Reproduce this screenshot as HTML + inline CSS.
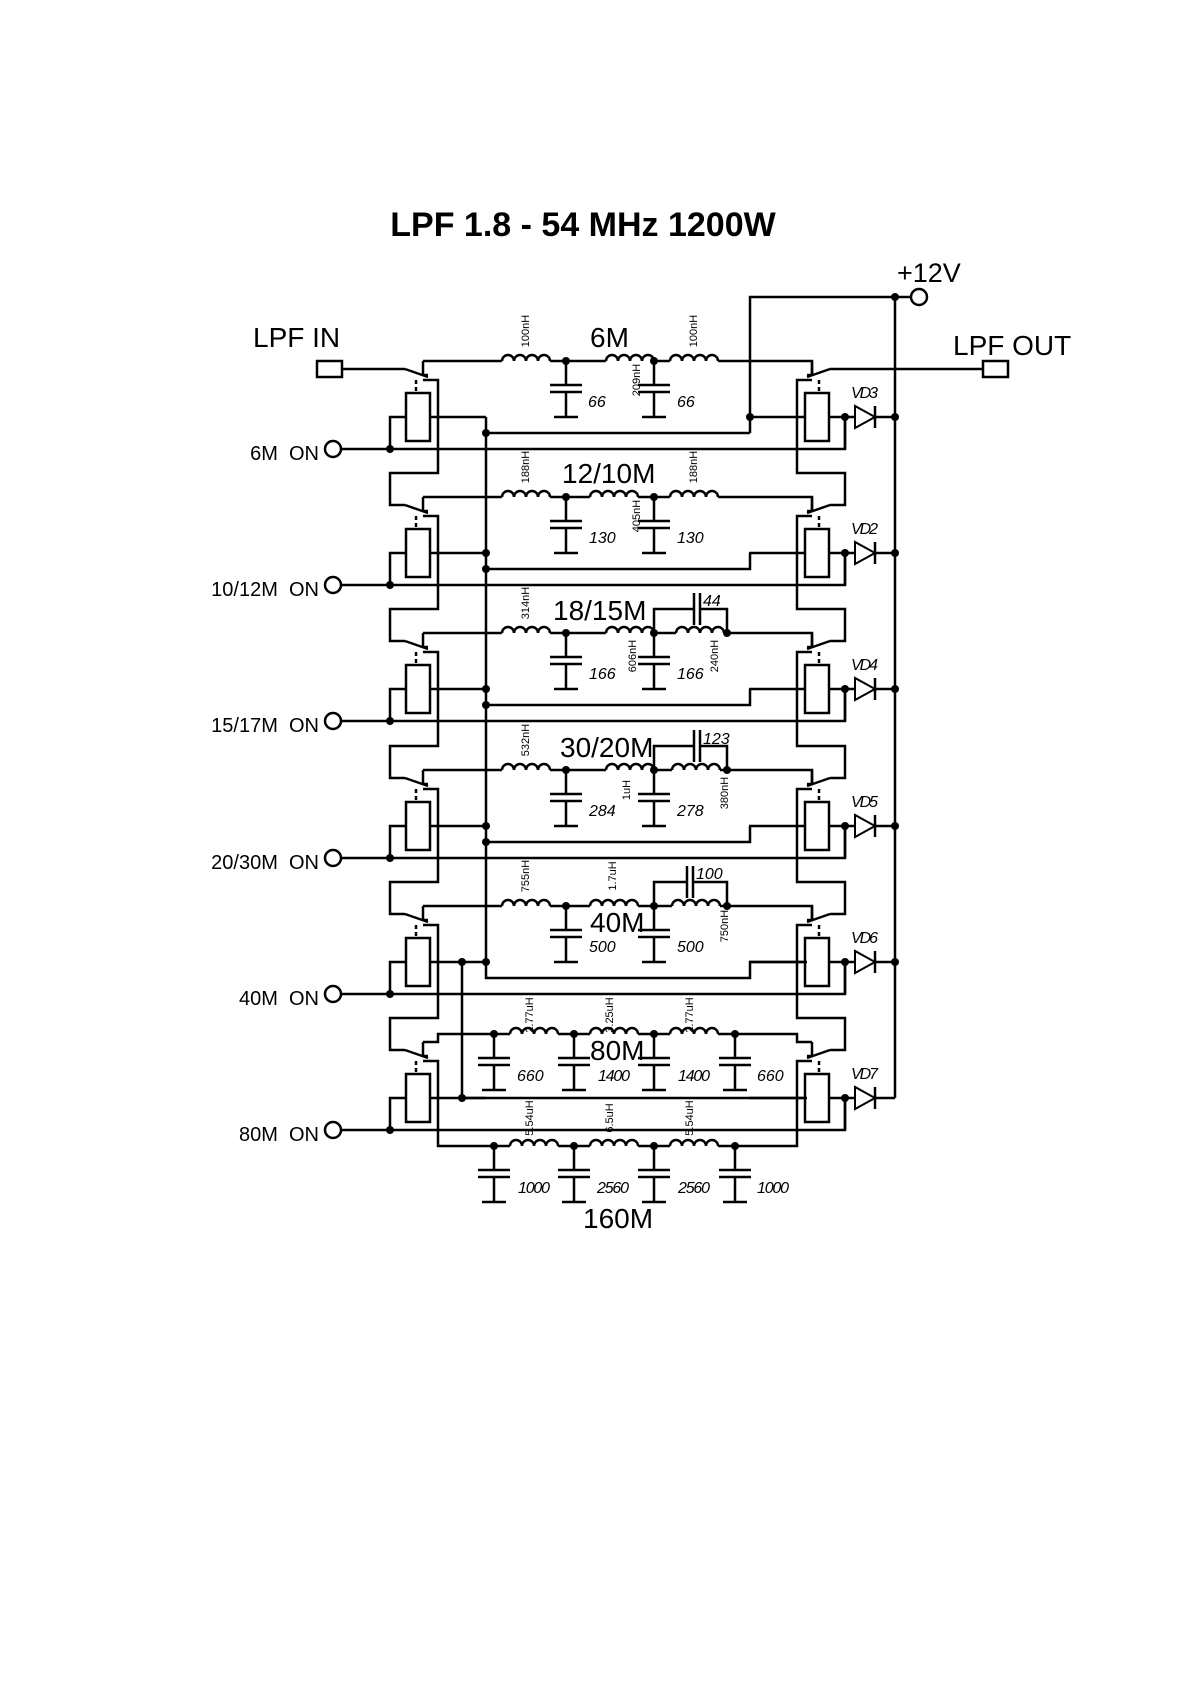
<!DOCTYPE html>
<html><head><meta charset="utf-8"><style>
html,body{margin:0;padding:0;background:#fff}
svg{display:block}
text{font-family:"Liberation Sans",sans-serif;fill:#000}
.w{fill:none;stroke:#000;stroke-width:2.5}
.it{font-style:italic}
</style></head><body>
<svg width="1190" height="1684" viewBox="0 0 1190 1684" xmlns="http://www.w3.org/2000/svg">
<defs>
<g id="rel" class="w">
<rect x="406" y="32" width="24" height="48" fill="#fff"/>
<path d="M416 19V32" stroke-dasharray="4 3"/>
<path d="M406 56H390V88M430 56H486M423 0V14H428M405 8L428 16"/>
</g>
<g id="ind"><path d="M0 0H48" stroke="#fff" stroke-width="6"/><path class="w" d="M0 0a6 6 0 0 1 12 0a6 6 0 0 1 12 0a6 6 0 0 1 12 0a6 6 0 0 1 12 0"/></g>
<g id="cap" class="w"><path d="M0 0V24M-16 24H16M-16 31H16M0 31V56M-12 56H12"/><circle cx="0" cy="0" r="4" fill="#000" stroke="none"/></g>
<g id="dio"><path class="w" d="M845 0H895"/><polygon points="855,-11 855,11 875,0" fill="#fff" stroke="#000" stroke-width="2"/><path class="w" d="M875 -11V11"/><circle cx="845" cy="0" r="4"/><circle cx="895" cy="0" r="4"/></g>
</defs>

<text x="583" y="236" font-size="34" font-weight="bold" text-anchor="middle">LPF 1.8 - 54 MHz 1200W</text>
<text x="253" y="347" font-size="28">LPF IN</text>
<text x="953" y="355" font-size="28">LPF OUT</text>
<text x="897" y="282" font-size="27">+12V</text>

<rect x="317" y="361" width="25" height="16" class="w" fill="#fff"/>
<rect x="983" y="361" width="25" height="16" class="w" fill="#fff"/>
<path class="w" d="M342 369H405M830 369H983"/>

<path class="w" d="M750 433V297H911M895 297V1098"/>
<circle cx="919" cy="297" r="8" class="w" fill="#fff"/>
<circle cx="895" cy="297" r="4"/>

<use href="#rel" transform="translate(0,361)"/>
<use href="#rel" transform="translate(0,497)"/>
<use href="#rel" transform="translate(0,633)"/>
<use href="#rel" transform="translate(0,770)"/>
<use href="#rel" transform="translate(0,906)"/>
<use href="#rel" transform="translate(0,1042)"/>
<use href="#rel" transform="translate(1235,361) scale(-1,1)"/>
<use href="#rel" transform="translate(1235,497) scale(-1,1)"/>
<use href="#rel" transform="translate(1235,633) scale(-1,1)"/>
<use href="#rel" transform="translate(1235,770) scale(-1,1)"/>
<use href="#rel" transform="translate(1235,906) scale(-1,1)"/>
<use href="#rel" transform="translate(1235,1042) scale(-1,1)"/>
<g>
<circle cx="390" cy="449" r="4"/><circle cx="390" cy="585" r="4"/><circle cx="390" cy="721" r="4"/><circle cx="390" cy="858" r="4"/><circle cx="390" cy="994" r="4"/><circle cx="390" cy="1130" r="4"/>
</g>

<path class="w" d="M423 380H438V473H390V505H405M423 516H438V609H390V641H405M423 652H438V746H390V778H405M423 789H438V882H390V914H405M423 925H438V1018H390V1050H405M423 1061H438V1146H797V1061H812"/>
<path class="w" d="M812 380H797V473H845V505H830M812 516H797V609H845V641H830M812 652H797V746H845V778H830M812 789H797V882H845V914H830M812 925H797V1018H845V1050H830"/>

<path class="w" d="M423 361H812V375M423 497H812V511M423 633H812V647M423 770H812V784M423 906H812V920M423 1042H438V1034H797V1042H812"/>

<path class="w" d="M341 449H845V417M341 585H845V553M341 721H845V689M341 858H845V826M341 994H845V962M341 1130H845V1098"/>
<g class="w" fill="#fff">
<circle cx="333" cy="449" r="8"/><circle cx="333" cy="585" r="8"/><circle cx="333" cy="721" r="8"/><circle cx="333" cy="858" r="8"/><circle cx="333" cy="994" r="8"/><circle cx="333" cy="1130" r="8"/>
</g>
<g font-size="20" text-anchor="end">
<text x="319" y="460" xml:space="preserve">6M  ON</text>
<text x="319" y="596" xml:space="preserve">10/12M  ON</text>
<text x="319" y="732" xml:space="preserve">15/17M  ON</text>
<text x="319" y="869" xml:space="preserve">20/30M  ON</text>
<text x="319" y="1005" xml:space="preserve">40M  ON</text>
<text x="319" y="1141" xml:space="preserve">80M  ON</text>
</g>

<path class="w" d="M486 417V978H750V962H807M486 433H750M486 569H750V553M486 705H750V689M486 842H750V826M462 962V1098H807"/>
<g>
<circle cx="486" cy="433" r="4"/><circle cx="750" cy="417" r="4"/>
<circle cx="486" cy="553" r="4"/><circle cx="486" cy="569" r="4"/>
<circle cx="486" cy="689" r="4"/><circle cx="486" cy="705" r="4"/>
<circle cx="486" cy="826" r="4"/><circle cx="486" cy="842" r="4"/>
<circle cx="486" cy="962" r="4"/><circle cx="462" cy="962" r="4"/><circle cx="462" cy="1098" r="4"/>
</g>

<use href="#dio" transform="translate(0,417)"/>
<use href="#dio" transform="translate(0,553)"/>
<use href="#dio" transform="translate(0,689)"/>
<use href="#dio" transform="translate(0,826)"/>
<use href="#dio" transform="translate(0,962)"/>
<g transform="translate(0,1098)"><path class="w" d="M845 0H895"/><polygon points="855,-11 855,11 875,0" fill="#fff" stroke="#000" stroke-width="2"/><path class="w" d="M875 -11V11"/><circle cx="845" cy="0" r="4"/></g>
<g font-size="16" class="it">
<text x="851" y="398" textLength="27">VD3</text>
<text x="851" y="534" textLength="27">VD2</text>
<text x="851" y="670" textLength="27">VD4</text>
<text x="851" y="807" textLength="27">VD5</text>
<text x="851" y="943" textLength="27">VD6</text>
<text x="851" y="1079" textLength="27">VD7</text>
</g>

<g transform="translate(0,361)">
<use href="#ind" x="502"/><use href="#ind" x="606"/><use href="#ind" x="670"/>
<use href="#cap" x="566"/><use href="#cap" x="654"/>
</g>
<g transform="translate(0,497)">
<use href="#ind" x="502"/><use href="#ind" x="590"/><use href="#ind" x="670"/>
<use href="#cap" x="566"/><use href="#cap" x="654"/>
</g>
<g transform="translate(0,633)">
<use href="#ind" x="502"/><use href="#ind" x="606"/><use href="#ind" x="676"/>
<use href="#cap" x="566"/><use href="#cap" x="654"/>
<path class="w" d="M654 0V-24H694M694 -40V-8M700 -40V-8M700 -24H727V0"/><circle cx="727" cy="0" r="4"/>
</g>
<g transform="translate(0,770)">
<use href="#ind" x="502"/><use href="#ind" x="606"/><use href="#ind" x="672"/>
<use href="#cap" x="566"/><use href="#cap" x="654"/>
<path class="w" d="M654 0V-24H694M694 -40V-8M700 -40V-8M700 -24H727V0"/><circle cx="727" cy="0" r="4"/>
</g>
<g transform="translate(0,906)">
<use href="#ind" x="502"/><use href="#ind" x="590"/><use href="#ind" x="672"/>
<use href="#cap" x="566"/><use href="#cap" x="654"/>
<path class="w" d="M654 0V-24H687M687 -40V-8M693 -40V-8M693 -24H727V0"/><circle cx="727" cy="0" r="4"/>
</g>
<g transform="translate(0,1034)">
<use href="#ind" x="510"/><use href="#ind" x="590"/><use href="#ind" x="670"/>
<use href="#cap" x="494"/><use href="#cap" x="574"/><use href="#cap" x="654"/><use href="#cap" x="735"/>
</g>
<g transform="translate(0,1146)">
<use href="#ind" x="510"/><use href="#ind" x="590"/><use href="#ind" x="670"/>
<use href="#cap" x="494"/><use href="#cap" x="574"/><use href="#cap" x="654"/><use href="#cap" x="735"/>
</g>

<g font-size="28">
<text x="590" y="347">6M</text>
<text x="562" y="483">12/10M</text>
<text x="553" y="620">18/15M</text>
<text x="560" y="757">30/20M</text>
<text x="590" y="932">40M</text>
<text x="590" y="1060">80M</text>
<text x="583" y="1228">160M</text>
</g>

<g font-size="16" class="it">
<text x="588" y="407">66</text><text x="677" y="407">66</text>
<text x="589" y="543">130</text><text x="677" y="543">130</text>
<text x="589" y="679">166</text><text x="677" y="679">166</text>
<text x="589" y="816">284</text><text x="677" y="816">278</text>
<text x="589" y="952">500</text><text x="677" y="952">500</text>
<text x="517" y="1081">660</text><text x="598" y="1081" textLength="32">1400</text><text x="678" y="1081" textLength="32">1400</text><text x="757" y="1081">660</text>
<text x="518" y="1193" textLength="32">1000</text><text x="597" y="1193" textLength="32">2560</text><text x="678" y="1193" textLength="32">2560</text><text x="757" y="1193" textLength="32">1000</text>
<text x="703" y="606">44</text>
<text x="703" y="744">123</text>
<text x="696" y="879">100</text>
</g>

<g font-size="11" text-anchor="middle">
<text transform="translate(529,331) rotate(-90)">100nH</text>
<text transform="translate(640,380) rotate(-90)">209nH</text>
<text transform="translate(697,331) rotate(-90)">100nH</text>
<text transform="translate(529,467) rotate(-90)">188nH</text>
<text transform="translate(640,516) rotate(-90)">405nH</text>
<text transform="translate(697,467) rotate(-90)">188nH</text>
<text transform="translate(529,603) rotate(-90)">314nH</text>
<text transform="translate(636,656) rotate(-90)">606nH</text>
<text transform="translate(718,656) rotate(-90)">240nH</text>
<text transform="translate(529,740) rotate(-90)">532nH</text>
<text transform="translate(630,790) rotate(-90)">1uH</text>
<text transform="translate(728,793) rotate(-90)">380nH</text>
<text transform="translate(529,876) rotate(-90)">755nH</text>
<text transform="translate(616,876) rotate(-90)">1.7uH</text>
<text transform="translate(728,926) rotate(-90)">750nH</text>
<text transform="translate(533,1015) rotate(-90)">2.77uH</text>
<text transform="translate(613,1015) rotate(-90)">3.25uH</text>
<text transform="translate(693,1015) rotate(-90)">2.77uH</text>
<text transform="translate(533,1118) rotate(-90)">5.54uH</text>
<text transform="translate(613,1118) rotate(-90)">6.5uH</text>
<text transform="translate(693,1118) rotate(-90)">5.54uH</text>
</g>
</svg>
</body></html>
